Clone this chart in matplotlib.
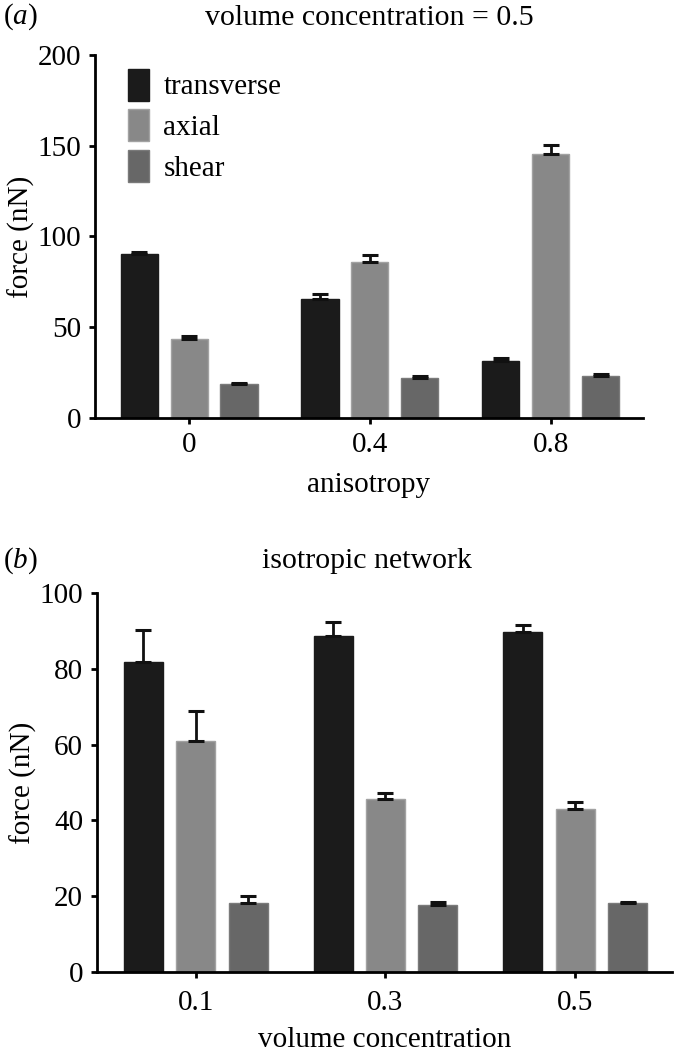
import matplotlib
matplotlib.use("Agg")
import matplotlib.pyplot as plt
import numpy as np

plt.rcParams['font.family'] = ['Liberation Serif', 'DejaVu Serif']
plt.rcParams['mathtext.fontset'] = 'custom'
plt.rcParams['mathtext.rm'] = 'Liberation Serif'
plt.rcParams['mathtext.it'] = 'Liberation Serif:italic'

# data
series = ["transverse", "axial", "shear"]
colors = ["#1b1b1b", "#888888", "#676767"]
edges = ["#1b1b1b", "#a2a2a2", "#7a7a7a"]

aniso_labels = ["0", "0.4", "0.8"]
a_means = [[90.4, 65.3, 31.6], [43.4, 85.8, 145.2], [19.0, 22.2, 23.2]]
a_errs = [[1.3, 2.9, 1.3], [1.6, 4.0, 5.2], [0.5, 1.1, 1.2]]

conc_labels = ["0.1", "0.3", "0.5"]
b_means = [[81.7, 88.6, 89.7], [61.0, 45.7, 43.1], [18.2, 17.8, 18.2]]
b_errs = [[8.5, 3.7, 1.9], [7.8, 1.6, 1.8], [1.9, 0.7, 0.2]]

fig = plt.figure(figsize=(6.74, 10.56), dpi=100)
ax1 = fig.add_axes([95/674, 1-418/1056, 548/674, 363/1056])
ax2 = fig.add_axes([97/674, 1-972/1056, 575/674, 379/1056])

fs = 21
width = 0.205
step = 0.276


def draw(ax, means, errs, labels, ymax, ystep):
    x = np.arange(len(labels))
    for i in range(3):
        xs = x + (i - 1) * step
        ax.bar(xs, means[i], width, color=colors[i], edgecolor=edges[i],
               linewidth=1, label=series[i], zorder=2)
        lo = np.zeros(len(labels))
        ax.errorbar(xs, means[i], yerr=[lo, errs[i]], fmt="none", ecolor="#111111",
                    elinewidth=2, capsize=6, capthick=2.2, zorder=3)
    ax.set_xlim(-0.52, 2.51)
    ax.set_ylim(0, ymax)
    ax.set_yticks(np.arange(0, ymax + 1, ystep))
    ax.set_xticks(x)
    ax.set_xticklabels(labels)
    for s in ["top", "right"]:
        ax.spines[s].set_visible(False)
    for s in ["left", "bottom"]:
        ax.spines[s].set_linewidth(2)
    ax.tick_params(labelsize=fs, width=2, length=4, pad=6)
    ax.set_ylabel("force (nN)", fontsize=fs, labelpad=2)


draw(ax1, a_means, a_errs, aniso_labels, 200, 50)
draw(ax2, b_means, b_errs, conc_labels, 100, 20)
ax2.tick_params(axis="x", pad=9)

ax1.set_xlabel("anisotropy", fontsize=fs, labelpad=10)
ax2.set_xlabel("volume concentration", fontsize=fs, labelpad=8)

ax1.legend(loc="upper left", bbox_to_anchor=(0.06, 0.962), frameon=False,
           fontsize=fs, handlelength=0.72, handleheight=1.3,
           handletextpad=0.5, labelspacing=0.3, borderpad=0, borderaxespad=0)

fig.text(0.004, 1-17/1056, "($a$)", fontsize=fs, va="center", ha="left")
fig.text(369/674, 1-18/1056, "volume concentration = 0.5", fontsize=21.5,
         va="center", ha="center")
fig.text(0.004, 1-561/1056, "($b$)", fontsize=fs, va="center", ha="left")
fig.text(367/674, 1-561/1056, "isotropic network", fontsize=21.5,
         va="center", ha="center")

fig.savefig("out.png", dpi=100)
